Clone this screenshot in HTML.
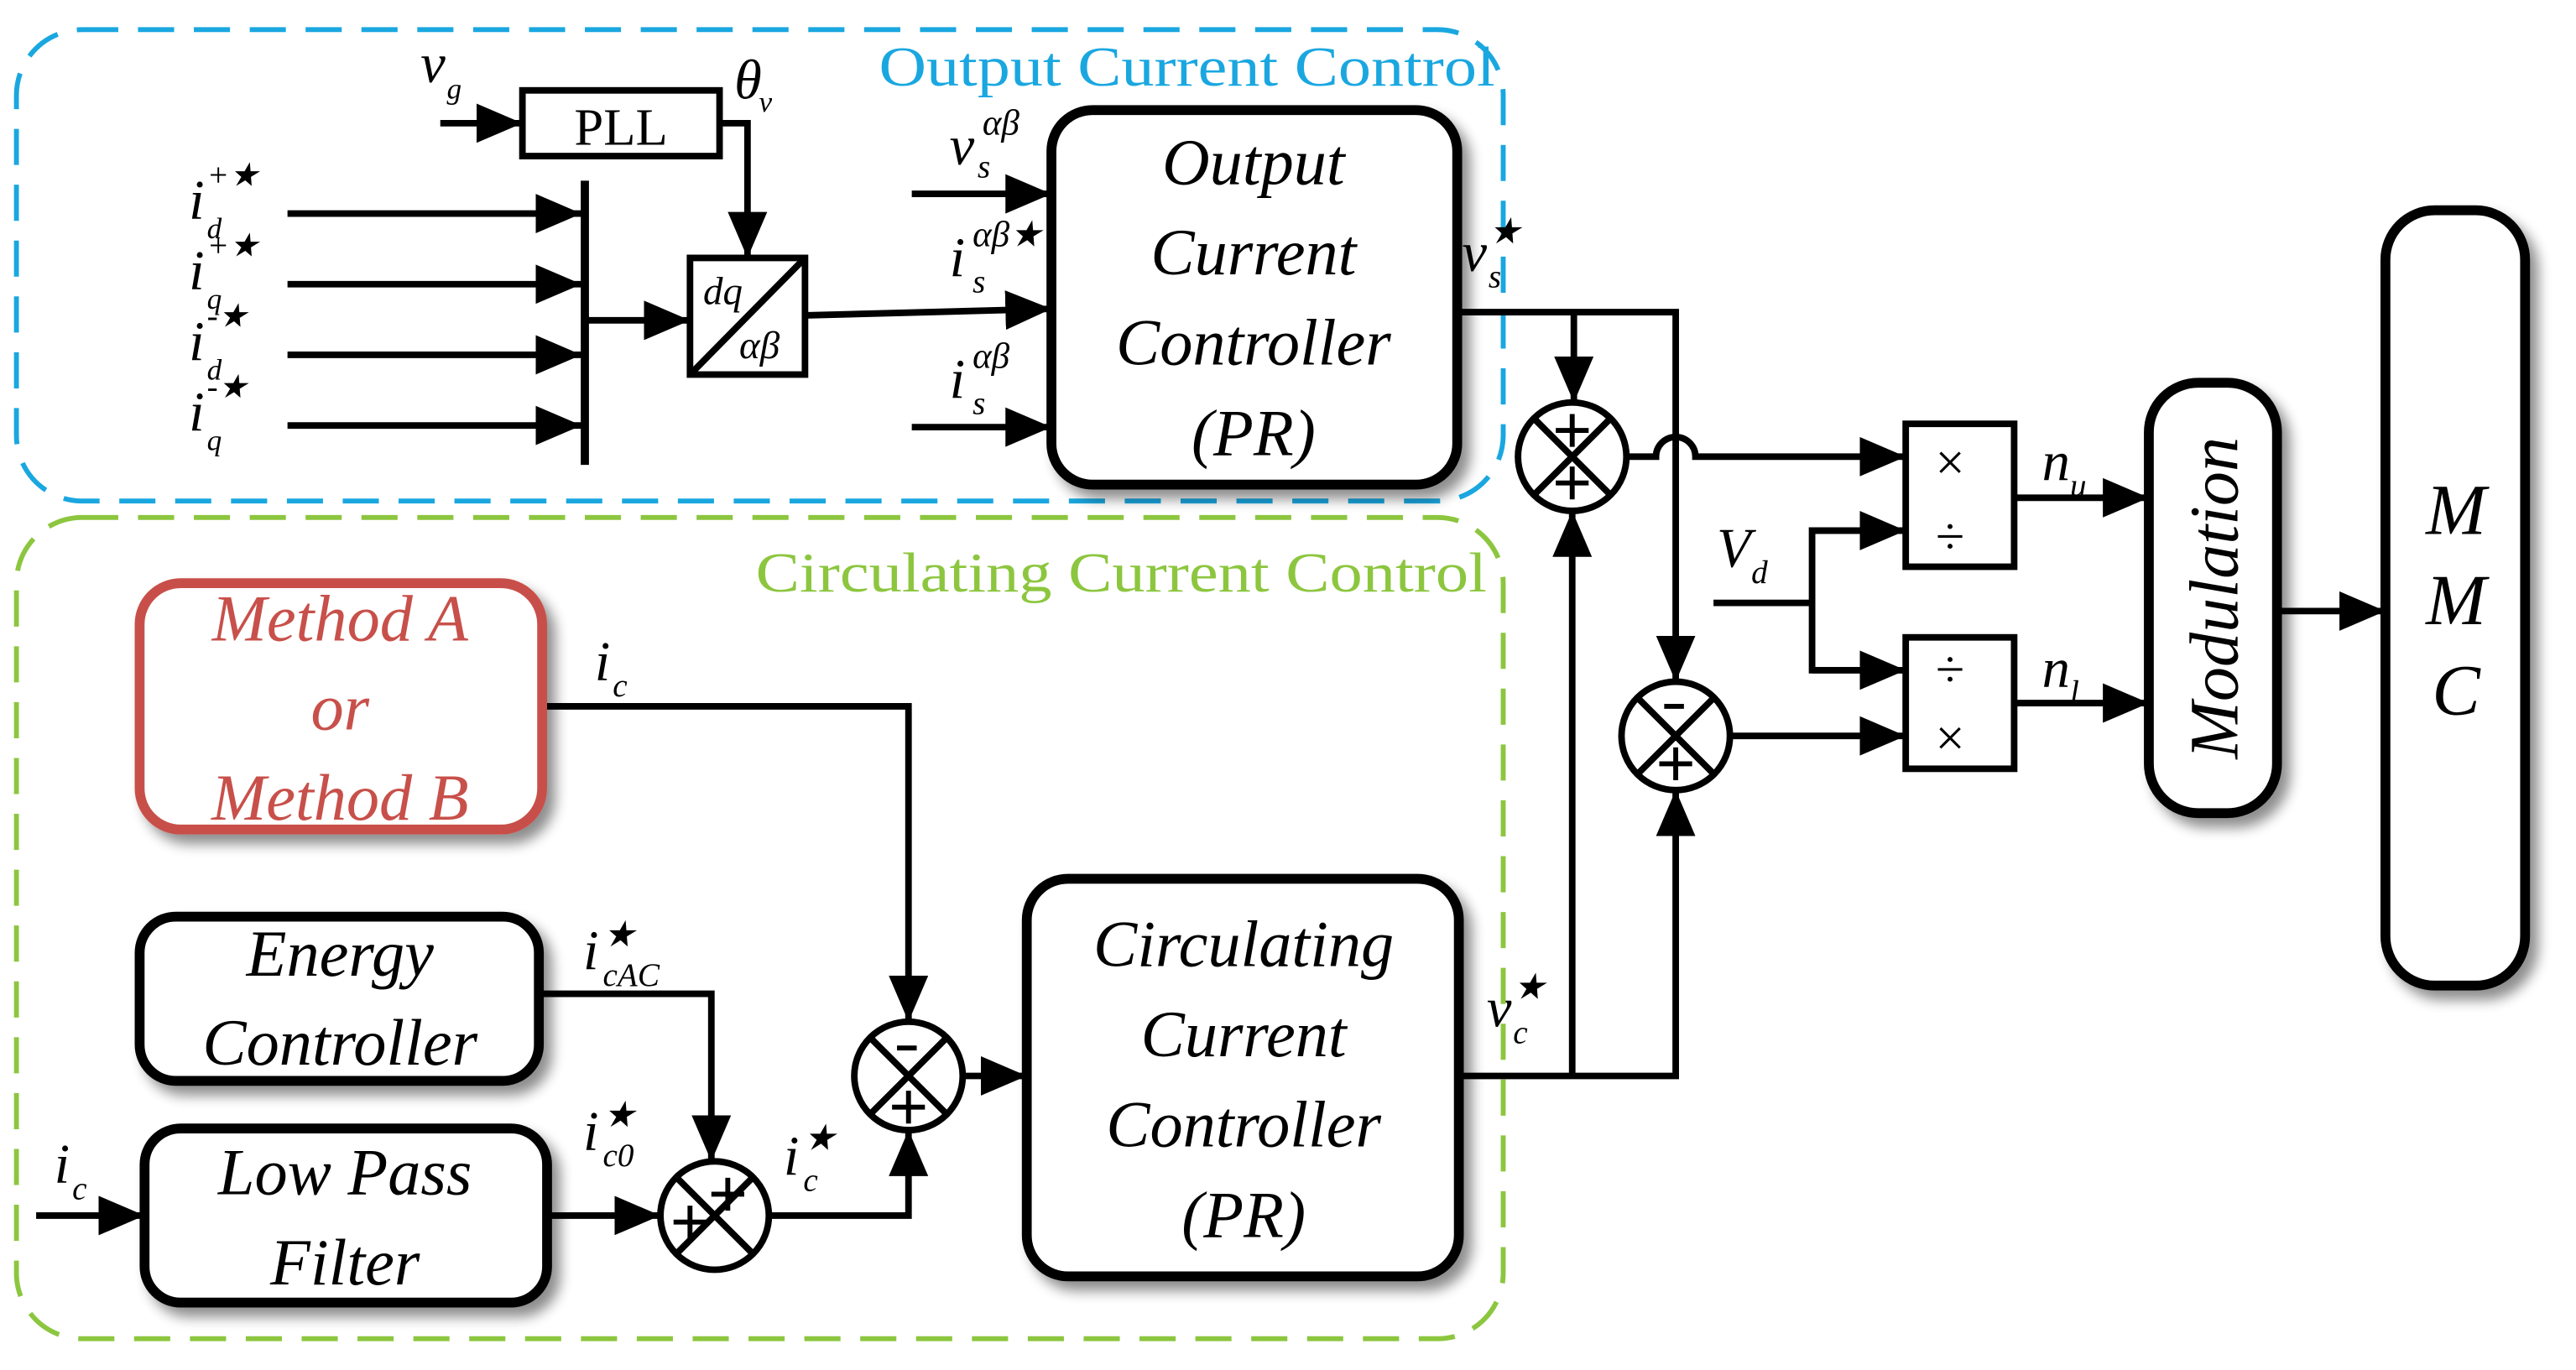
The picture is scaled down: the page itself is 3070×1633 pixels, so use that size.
<!DOCTYPE html>
<html><head><meta charset="utf-8"><style>
html,body{margin:0;padding:0;background:#fff;}
svg{display:block;}
text{font-family:"Liberation Serif","DejaVu Serif",serif;}
.it{font-style:italic;}
</style></head><body>
<svg width="3070" height="1633" viewBox="0 0 1568 834" xmlns="http://www.w3.org/2000/svg">
<defs>
<marker id="a" markerUnits="userSpaceOnUse" markerWidth="30" markerHeight="26" refX="28" refY="12" orient="auto">
<path d="M0,0 L28,12 L0,24 z" fill="#000"/></marker>
<filter id="sh" x="-20%" y="-20%" width="150%" height="150%">
<feGaussianBlur in="SourceAlpha" stdDeviation="4"/><feOffset dx="5" dy="6" result="o"/>
<feComponentTransfer><feFuncA type="linear" slope="0.45"/></feComponentTransfer>
<feMerge><feMergeNode/><feMergeNode in="SourceGraphic"/></feMerge></filter>
</defs>

<rect x="10" y="18" width="905" height="287" rx="40" fill="none" stroke="#1aa7e0" stroke-width="3" stroke-dasharray="22,12"/>
<rect x="10" y="315" width="905" height="500" rx="40" fill="none" stroke="#8cc63f" stroke-width="3" stroke-dasharray="22,12"/>
<text x="535" y="52" font-size="34" fill="#1aa7e0" textLength="375" lengthAdjust="spacingAndGlyphs">Output Current Control</text>
<text x="460" y="360" font-size="34" fill="#8cc63f" textLength="445" lengthAdjust="spacingAndGlyphs">Circulating Current Control</text>

<g stroke="#000" stroke-width="4" fill="none">
<line x1="268" y1="75" x2="318" y2="75" marker-end="url(#a)"/>
<polyline points="438,75 455,75 455,157" marker-end="url(#a)"/>
<line x1="175" y1="130" x2="354" y2="130" marker-end="url(#a)"/>
<line x1="175" y1="173" x2="354" y2="173" marker-end="url(#a)"/>
<line x1="175" y1="216" x2="354" y2="216" marker-end="url(#a)"/>
<line x1="175" y1="259" x2="354" y2="259" marker-end="url(#a)"/>
<line x1="356" y1="195" x2="420" y2="195" marker-end="url(#a)"/>
<line x1="490" y1="192" x2="640" y2="188" marker-end="url(#a)"/>
<line x1="555" y1="118" x2="640" y2="118" marker-end="url(#a)"/>
<line x1="555" y1="260" x2="640" y2="260" marker-end="url(#a)"/>
<polyline points="887,190 1020,190 1020,415" marker-end="url(#a)"/>
<line x1="958" y1="190" x2="958" y2="245" marker-end="url(#a)"/>
<path d="M990,278 L1008,278 A12,12 0 0 1 1032,278 L1160,278" marker-end="url(#a)"/>
<line x1="1053" y1="448" x2="1160" y2="448" marker-end="url(#a)"/>
<polyline points="888,655 1020,655 1020,481" marker-end="url(#a)"/>
<line x1="957" y1="655" x2="957" y2="311" marker-end="url(#a)"/>
<line x1="1043" y1="367" x2="1103" y2="367"/>
<polyline points="1160,323 1103,323 1103,408 1160,408"/>
<line x1="1103" y1="323" x2="1160" y2="323" marker-end="url(#a)"/>
<line x1="1103" y1="408" x2="1160" y2="408" marker-end="url(#a)"/>
<line x1="1226" y1="303" x2="1308" y2="303" marker-end="url(#a)"/>
<line x1="1226" y1="428" x2="1308" y2="428" marker-end="url(#a)"/>
<line x1="1386" y1="372" x2="1452" y2="372" marker-end="url(#a)"/>
<polyline points="330,430 553,430 553,622" marker-end="url(#a)"/>
<polyline points="328,605 433,605 433,707" marker-end="url(#a)"/>
<line x1="22" y1="740" x2="88" y2="740" marker-end="url(#a)"/>
<line x1="333" y1="740" x2="402" y2="740" marker-end="url(#a)"/>
<polyline points="468,740 553,740 553,688" marker-end="url(#a)"/>
<line x1="586" y1="655" x2="625" y2="655" marker-end="url(#a)"/>
</g>
<line x1="356" y1="110" x2="356" y2="283" stroke="#000" stroke-width="5"/>

<rect x="318" y="55" width="120" height="40" fill="#fff" stroke="#000" stroke-width="4"/>
<text x="378" y="88" font-size="32" text-anchor="middle">PLL</text>
<rect x="420" y="157" width="70" height="71" fill="#fff" stroke="#000" stroke-width="4"/>
<line x1="420" y1="228" x2="490" y2="157" stroke="#000" stroke-width="4"/>
<text x="428" y="185" font-size="24" class="it">dq</text>
<text x="450" y="218" font-size="24" class="it">αβ</text>

<g fill="#fff" stroke="#000" stroke-width="6" filter="url(#sh)">
<rect x="640" y="67" width="247" height="228" rx="25"/>
<rect x="625" y="535" width="263" height="242" rx="25"/>
<rect x="85" y="558" width="243" height="100" rx="22"/>
<rect x="88" y="687" width="245" height="106" rx="22"/>
<rect x="1308" y="233" width="78" height="262" rx="30"/>
<rect x="1452" y="128" width="85" height="472" rx="30"/>
<rect x="85" y="355" width="245" height="150" rx="25" stroke="#c8504a"/>
</g>
<rect x="1160" y="258" width="66" height="87" fill="#fff" stroke="#000" stroke-width="4"/>
<rect x="1160" y="388" width="66" height="80" fill="#fff" stroke="#000" stroke-width="4"/>
<text x="1187" y="292" font-size="32" text-anchor="middle">×</text>
<text x="1187" y="337" font-size="32" text-anchor="middle">÷</text>
<text x="1187" y="418" font-size="32" text-anchor="middle">÷</text>
<text x="1187" y="460" font-size="32" text-anchor="middle">×</text>

<g fill="#fff" stroke="#000" stroke-width="4">
<circle cx="957" cy="278" r="33"/><circle cx="1020" cy="448" r="33"/>
<circle cx="553" cy="655" r="33"/><circle cx="435" cy="740" r="33"/>
</g>
<g stroke="#000" stroke-width="4">
<path d="M934,255 L980,301 M980,255 L934,301"/>
<path d="M997,425 L1043,471 M1043,425 L997,471"/>
<path d="M530,632 L576,678 M576,632 L530,678"/>
<path d="M412,717 L458,763 M458,717 L412,763"/>
</g>
<g stroke="#000" stroke-width="3">
<path d="M947,262 h20 M957,252 v20 M947,294 h20 M957,284 v20"/>
<path d="M1013,430 h12"/><path d="M1010,465 h20 M1020,455 v20"/>
<path d="M546,638 h12"/><path d="M543,674 h20 M553,664 v20"/>
<path d="M433,727 h20 M443,717 v20 M410,744 h20 M420,734 v20"/>
</g>

<g class="it" font-size="40" text-anchor="middle">
<text x="763" y="112">Output</text><text x="763" y="167">Current</text><text x="763" y="222">Controller</text><text x="763" y="277">(PR)</text>
<text x="757" y="588">Circulating</text><text x="757" y="643">Current</text><text x="757" y="698">Controller</text><text x="757" y="753">(PR)</text>
<text x="207" y="594">Energy</text><text x="207" y="648">Controller</text>
<text x="210" y="727">Low Pass</text><text x="210" y="782">Filter</text>
<g fill="#c8504a"><text x="207" y="390">Method A</text><text x="207" y="444">or</text><text x="207" y="499">Method B</text></g>
<text x="1495" y="325" font-size="44">M</text><text x="1495" y="380" font-size="44">M</text><text x="1495" y="435" font-size="44">C</text>
<text transform="translate(1362,364) rotate(-90)" font-size="42">Modulation</text>
</g>

<g class="it" font-size="34">
<text x="256" y="50">v</text><text x="272" y="60" font-size="18">g</text>
<text x="447" y="60">θ</text><text x="462" y="68" font-size="18">v</text>
<text x="115" y="133">i</text><text x="126" y="145" font-size="18">d</text><text x="126" y="113" font-size="20">+★</text>
<text x="115" y="176">i</text><text x="126" y="188" font-size="18">q</text><text x="126" y="156" font-size="20">+★</text>
<text x="115" y="219">i</text><text x="126" y="231" font-size="18">d</text><text x="126" y="199" font-size="20">-★</text>
<text x="115" y="262">i</text><text x="126" y="274" font-size="18">q</text><text x="126" y="242" font-size="20">-★</text>
<text x="578" y="100">v</text><text x="595" y="108" font-size="20">s</text><text x="598" y="82" font-size="22">αβ</text>
<text x="578" y="168">i</text><text x="592" y="178" font-size="20">s</text><text x="592" y="150" font-size="22">αβ★</text>
<text x="578" y="242">i</text><text x="592" y="252" font-size="20">s</text><text x="592" y="224" font-size="22">αβ</text>
<text x="890" y="165">v</text><text x="906" y="175" font-size="20">s</text><text x="906" y="148" font-size="22">★</text>
<text x="1045" y="345">V</text><text x="1066" y="355" font-size="20">d</text>
<text x="1243" y="292">n</text><text x="1260" y="302" font-size="20">u</text>
<text x="1243" y="418">n</text><text x="1260" y="428" font-size="20">l</text>
<text x="362" y="414">i</text><text x="373" y="424" font-size="20">c</text>
<text x="355" y="590">i</text><text x="367" y="600" font-size="20">cAC</text><text x="367" y="576" font-size="22">★</text>
<text x="355" y="700">i</text><text x="367" y="710" font-size="20">c0</text><text x="367" y="686" font-size="22">★</text>
<text x="477" y="715">i</text><text x="489" y="725" font-size="20">c</text><text x="489" y="700" font-size="22">★</text>
<text x="33" y="720">i</text><text x="44" y="730" font-size="20">c</text>
<text x="905" y="625">v</text><text x="921" y="635" font-size="20">c</text><text x="921" y="608" font-size="22">★</text>
</g>
</svg>
</body></html>
